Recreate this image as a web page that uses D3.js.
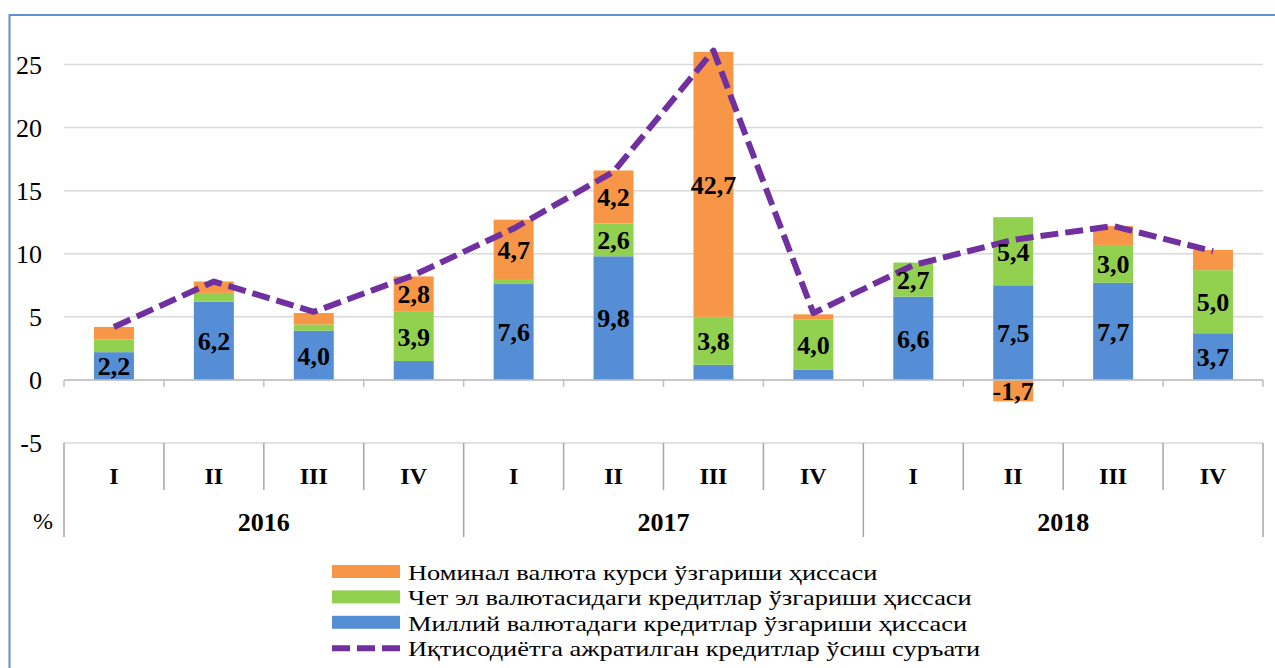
<!DOCTYPE html>
<html>
<head>
<meta charset="utf-8">
<script src="https://cdn.jsdelivr.net/npm/d3@7"></script>
<style>
  body { margin: 0; background: #fff; }
  svg { display: block; }
  svg text { font-family: "Liberation Serif", "DejaVu Serif", serif; }
</style>
</head>
<body>
<svg id="chart" width="1275" height="668"></svg>
<script>
// ===== Data =====
const quarters = ["I", "II", "III", "IV", "I", "II", "III", "IV", "I", "II", "III", "IV"];
const years = ["2016", "2017", "2018"];

// stacked contributions (bar heights)
const national = [2.2, 6.2, 3.9, 1.5, 7.6, 9.8, 1.2, 0.8, 6.6, 7.5, 7.7, 3.7];
const foreign = [1.0, 0.7, 0.5, 3.9, 0.4, 2.6, 3.8, 4.0, 2.7, 5.4, 3.0, 5.0];
const exchange = [1.0, 0.9, 0.9, 2.8, 4.7, 4.2, 21.0, 0.4, 0.0, -1.7, 1.5, 1.6];
// credit growth rate line
const growth = [4.2, 7.8, 5.4, 8.3, 12.0, 16.5, 26.1, 5.3, 9.1, 11.1, 12.2, 10.2];

// data labels as printed on the chart
const nationalLabels = ["2,2", "6,2", "4,0", "", "7,6", "9,8", "", "", "6,6", "7,5", "7,7", "3,7"];
const foreignLabels = ["", "", "", "3,9", "", "2,6", "3,8", "4,0", "2,7", "5,4", "3,0", "5,0"];
const exchangeLabels = ["", "", "", "2,8", "4,7", "4,2", "42,7", "", "", "-1,7", "", ""];

const yTicks = [-5, 0, 5, 10, 15, 20, 25];

const legendNames = [
  "Номинал валюта курси ўзгариши ҳиссаси",
  "Чет эл валютасидаги кредитлар ўзгариши ҳиссаси",
  "Миллий валютадаги кредитлар ўзгариши ҳиссаси",
  "Иқтисодиётга ажратилган кредитлар ўсиш суръати"
];

// ===== Layout =====
const svg = d3.select("#chart");
const plot = { left: 64, right: 1263 };
const colors = { national: "#558ED5", foreign: "#92D050", exchange: "#F79646", line: "#7030A0" };

// outer frame (blue border, top + left visible)
svg.append("rect")
  .attr("x", 9.5).attr("y", 15)
  .attr("width", 1300).attr("height", 700)
  .attr("fill", "none")
  .attr("stroke", "#5B8FD6")
  .attr("stroke-width", 2);

const x = d3.scaleBand()
  .domain(d3.range(quarters.length))
  .range([plot.left, plot.right])
  .paddingInner(0.6)
  .paddingOuter(0.3);

const y = d3.scaleLinear().domain([-5, 25]).range([443, 64.5]);

const n = quarters.length;
const gap = (x.step() - x.bandwidth()) / 2;
// left edge of category i (i === n gives the right edge of the last one)
const boundary = i => (i < n ? x(i) - gap : x(n - 1) + x.bandwidth() + gap);

// gridlines
svg.append("g")
  .selectAll("line")
  .data(yTicks)
  .join("line")
  .attr("x1", plot.left).attr("x2", plot.right)
  .attr("y1", d => y(d)).attr("y2", d => y(d))
  .attr("stroke", "#D9D9D9")
  .attr("stroke-width", 1.5);

// y tick labels
svg.append("g")
  .selectAll("text")
  .data(yTicks)
  .join("text")
  .attr("x", 42)
  .attr("y", d => y(d))
  .attr("dy", "0.35em")
  .attr("text-anchor", "end")
  .style("font-size", "26px")
  .text(d => d);

// ===== Stacked bars =====
const rows = quarters.map((q, i) => ({ i, national: national[i], foreign: foreign[i], exchange: exchange[i] }));
const keys = ["national", "foreign", "exchange"];
const stacked = d3.stack().keys(keys).offset(d3.stackOffsetDiverging)(rows);

const labelSets = { national: nationalLabels, foreign: foreignLabels, exchange: exchangeLabels };

svg.append("g")
  .selectAll("g")
  .data(stacked)
  .join("g")
  .attr("fill", d => colors[d.key])
  .selectAll("rect")
  .data(d => d)
  .join("rect")
  .attr("x", d => x(d.data.i))
  .attr("width", x.bandwidth())
  .attr("y", d => y(Math.max(d[0], d[1])))
  .attr("height", d => Math.abs(y(d[0]) - y(d[1])));

// zero axis line with tick marks at category boundaries
svg.append("line")
  .attr("x1", plot.left).attr("x2", plot.right)
  .attr("y1", y(0)).attr("y2", y(0))
  .attr("stroke", "#BFBFBF")
  .attr("stroke-width", 1.5);

svg.append("g")
  .selectAll("line")
  .data(d3.range(n + 1))
  .join("line")
  .attr("x1", i => boundary(i)).attr("x2", i => boundary(i))
  .attr("y1", y(0)).attr("y2", y(0) + 7)
  .attr("stroke", "#BFBFBF")
  .attr("stroke-width", 1.5);

// ===== Line =====
const lineGen = d3.line()
  .x((d, i) => x(i) + x.bandwidth() / 2)
  .y(d => y(d));

svg.append("path")
  .datum(growth)
  .attr("fill", "none")
  .attr("stroke", colors.line)
  .attr("stroke-width", 6)
  .attr("stroke-dasharray", "18,7")
  .attr("stroke-linejoin", "round")
  .attr("d", lineGen);

// ===== Data labels =====
const labelG = svg.append("g");
stacked.forEach(series => {
  series.forEach(d => {
    const txt = labelSets[series.key][d.data.i];
    if (!txt) return;
    labelG.append("text")
      .attr("x", x(d.data.i) + x.bandwidth() / 2)
      .attr("y", (y(d[0]) + y(d[1])) / 2)
      .attr("dy", "0.36em")
      .attr("text-anchor", "middle")
      .style("font-size", "26px")
      .style("font-weight", "bold")
      .text(txt);
  });
});

// ===== Category table (multi-level axis) =====
const tableTop = y(-5);
svg.append("g")
  .selectAll("line")
  .data(d3.range(n + 1))
  .join("line")
  .attr("x1", i => boundary(i)).attr("x2", i => boundary(i))
  .attr("y1", tableTop)
  .attr("y2", i => (i % 4 === 0 ? 537 : 490))
  .attr("stroke", "#A6A6A6")
  .attr("stroke-width", 1.5);

svg.append("g")
  .selectAll("text")
  .data(quarters)
  .join("text")
  .attr("x", (d, i) => x(i) + x.bandwidth() / 2)
  .attr("y", 476)
  .attr("dy", "0.35em")
  .attr("text-anchor", "middle")
  .style("font-size", "24px")
  .style("font-weight", "bold")
  .text(d => d);

svg.append("g")
  .selectAll("text")
  .data(years)
  .join("text")
  .attr("x", (d, k) => (boundary(k * 4) + boundary(k * 4 + 4)) / 2)
  .attr("y", 522)
  .attr("dy", "0.35em")
  .attr("text-anchor", "middle")
  .style("font-size", "26px")
  .style("font-weight", "bold")
  .text(d => d);

svg.append("text")
  .attr("x", 43).attr("y", 521)
  .attr("dy", "0.35em")
  .attr("text-anchor", "middle")
  .style("font-size", "24px")
  .text("%");

// ===== Legend =====
const legendColors = [colors.exchange, colors.foreign, colors.national, colors.line];
const legend = svg.append("g").attr("transform", "translate(332,572)");
legendNames.forEach((name, k) => {
  const row = legend.append("g").attr("transform", `translate(0,${k * 25.4})`);
  if (k < 3) {
    row.append("rect")
      .attr("x", 0).attr("y", -7)
      .attr("width", 68).attr("height", 13)
      .attr("fill", legendColors[k]);
  } else {
    row.append("line")
      .attr("x1", 0).attr("x2", 68)
      .attr("y1", 0).attr("y2", 0)
      .attr("stroke", legendColors[k])
      .attr("stroke-width", 6)
      .attr("stroke-dasharray", "18,7");
  }
  // legend text in the source is drawn a bit wide, so stretch it horizontally
  row.append("text")
    .attr("transform", "translate(76,0) scale(1.2,1)")
    .attr("dy", "0.35em")
    .style("font-size", "22px")
    .text(name);
});
</script>
</body>
</html>
